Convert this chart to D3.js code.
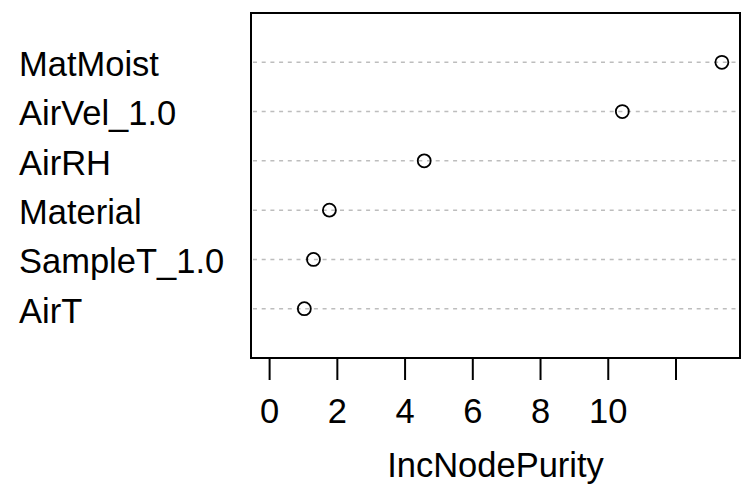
<!DOCTYPE html>
<html>
<head>
<meta charset="utf-8">
<script src="https://cdn.jsdelivr.net/npm/d3@7"></script>
<style>
  body { margin: 0; background: #fff; }
  text { font-family: "Liberation Sans", Arial, sans-serif; fill: #000; }
</style>
</head>
<body>
<div id="chart"></div>
<script>
// variables, top to bottom as drawn
var variables = ["MatMoist", "AirVel_1.0", "AirRH", "Material", "SampleT_1.0", "AirT"];
var purity = [13.37, 10.43, 4.58, 1.78, 1.31, 1.04];
var tickValues = [0, 2, 4, 6, 8, 10, 12];
var tickLabels = ["0", "2", "4", "6", "8", "10", ""];
var xTitle = "IncNodePurity";

var width = 750, height = 491;
var box = {left: 251, right: 740, top: 13, bottom: 358};

var svg = d3.select("#chart").append("svg")
  .attr("width", width)
  .attr("height", height);

var xMax = d3.max(purity);
var pad = 0.04 * xMax;
var x = d3.scaleLinear().domain([-pad, xMax + pad]).range([box.left, box.right]);

// rows 1..n from bottom, like a dotchart
var n = variables.length;
var y = d3.scaleLinear().domain([0, n + 1]).range([box.bottom, box.top]);
var rowY = function(d, i) { return y(n - i); };

// dotted guide lines
svg.append("g")
  .selectAll("line")
  .data(variables)
  .enter().append("line")
  .attr("x1", box.left + 2)
  .attr("x2", box.right - 2)
  .attr("y1", rowY)
  .attr("y2", rowY)
  .attr("stroke", "#bdbdbd")
  .attr("stroke-width", 1.5)
  .attr("stroke-dasharray", "4,4.7");

// points
svg.append("g")
  .selectAll("circle")
  .data(purity)
  .enter().append("circle")
  .attr("cx", d => x(d))
  .attr("cy", rowY)
  .attr("r", 6.5)
  .attr("fill", "none")
  .attr("stroke", "#000")
  .attr("stroke-width", 1.8);

// labels on the left
svg.append("g")
  .selectAll("text")
  .data(variables)
  .enter().append("text")
  .attr("x", 19)
  .attr("y", rowY)
  .attr("dy", "0.4em")
  .style("font-size", "34.5px")
  .text(d => d);

// frame
svg.append("rect")
  .attr("x", box.left)
  .attr("y", box.top)
  .attr("width", box.right - box.left)
  .attr("height", box.bottom - box.top)
  .attr("fill", "none")
  .attr("stroke", "#000")
  .attr("stroke-width", 2);

// x axis
var xAxis = d3.axisBottom(x)
  .tickValues(tickValues)
  .tickSize(21)
  .tickPadding(19)
  .tickFormat((d, i) => tickLabels[i]);

var ax = svg.append("g")
  .attr("transform", "translate(0," + (box.bottom + 1) + ")")
  .call(xAxis);
ax.select(".domain").remove();
ax.selectAll(".tick line").attr("stroke", "#000").attr("stroke-width", 2);
ax.selectAll(".tick text")
  .style("font-size", "34.5px")
  .attr("fill", "#000");

svg.append("text")
  .attr("x", (box.left + box.right) / 2)
  .attr("y", 477)
  .attr("text-anchor", "middle")
  .style("font-size", "34.5px")
  .text(xTitle);
</script>
</body>
</html>
